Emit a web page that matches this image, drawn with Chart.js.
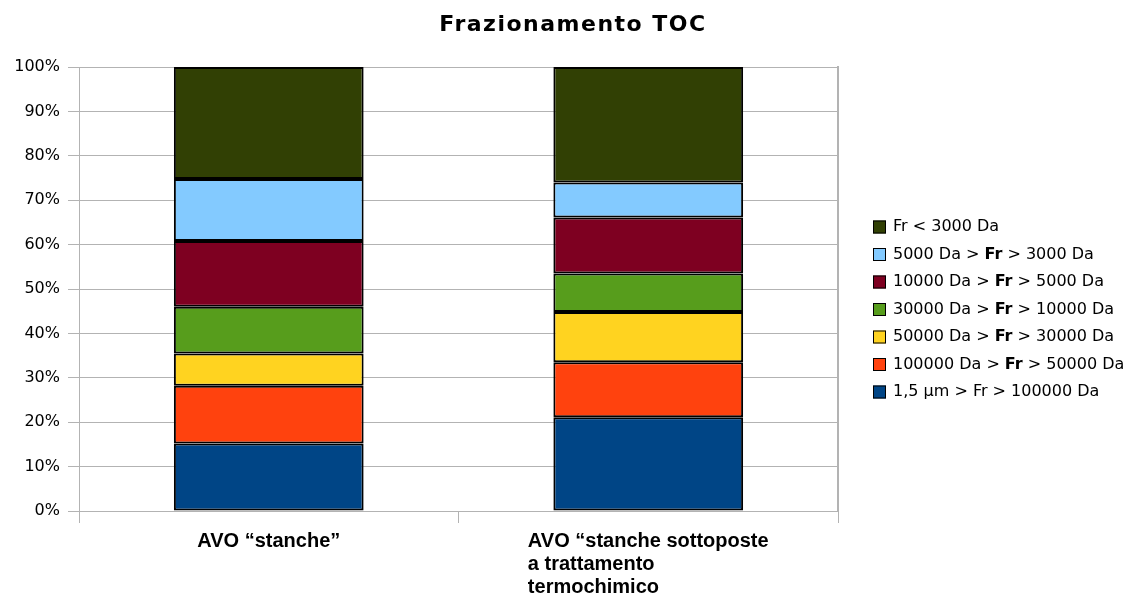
<!DOCTYPE html>
<html>
<head>
<meta charset="utf-8">
<title>Frazionamento TOC</title>
<script src="https://cdn.jsdelivr.net/npm/chart.js@4"></script>
<style>
  html, body { margin: 0; padding: 0; background: #ffffff; }
  #wrap { width: 1127px; height: 596px; }
</style>
</head>
<body>
<div id="wrap"><canvas id="chart" width="1127" height="596"></canvas></div>
<script>
// Categories (x axis), multi-line labels
const categories = [
  ['AVO “stanche”'],
  ['AVO “stanche sottoposte', 'a trattamento', 'termochimico']
];

// Fractions, bottom to top of each stacked column
const seriesLabels = [
  '1,5 µm > Fr > 100000 Da',
  '100000 Da > Fr > 50000 Da',
  '50000 Da > Fr > 30000 Da',
  '30000 Da > Fr > 10000 Da',
  '10000 Da > Fr > 5000 Da',
  '5000 Da > Fr > 3000 Da',
  'Fr < 3000 Da'
];
// whether "Fr" is set in bold inside each legend entry
const frBold = [false, true, true, true, true, true, false];

// Percentage of TOC in each fraction [AVO stanche, AVO trattate]
const frac15um    = [15.2, 21.1];
const frac100k    = [13.0, 12.4];
const frac50k     = [7.3, 11.3];
const frac30k     = [10.5, 8.7];
const frac10k     = [14.8, 12.6];
const frac5k      = [14.0, 7.9];
const fracBelow3k = [25.2, 26.0];

const seriesValues = [frac15um, frac100k, frac50k, frac30k, frac10k, frac5k, fracBelow3k];
const seriesColors = ['#004586', '#ff420e', '#ffd320', '#579d1c', '#7e0021', '#83caff', '#314004'];

// Y axis ticks
const yTicks = [0, 10, 20, 30, 40, 50, 60, 70, 80, 90, 100];

const chartTitle = 'Frazionamento TOC';
const GRID = '#b3b3b3';

const datasets = seriesLabels.map((label, i) => ({
  label: label,
  data: seriesValues[i],
  backgroundColor: seriesColors[i],
  borderColor: '#000000',
  borderWidth: 2,
  borderSkipped: false,
  barPercentage: 0.5,
  categoryPercentage: 1.0
}));

// Title, right frame line, x labels and legend drawn on the canvas
const decorations = {
  id: 'decorations',
  afterDraw(chart) {
    const ctx = chart.ctx;
    const area = chart.chartArea;
    const xScale = chart.scales.x;

    ctx.save();

    // right frame line of the plot area
    ctx.strokeStyle = GRID;
    ctx.lineWidth = 2;
    ctx.beginPath();
    ctx.moveTo(area.right, area.top - 1);
    ctx.lineTo(area.right, area.bottom);
    ctx.stroke();

    // title
    ctx.fillStyle = '#000000';
    ctx.font = 'bold 22px "DejaVu Sans"';
    ctx.letterSpacing = '1.5px';
    ctx.textAlign = 'center';
    ctx.textBaseline = 'alphabetic';
    ctx.fillText(chartTitle, 573, 31);
    ctx.letterSpacing = '0px';

    // category labels: left-aligned lines inside a block centred on the column
    ctx.font = 'bold 20px "Liberation Sans"';
    ctx.textAlign = 'left';
    categories.forEach((lines, i) => {
      const cx = xScale.getPixelForValue(i);
      const w = Math.max(...lines.map(l => ctx.measureText(l).width));
      lines.forEach((line, j) => {
        ctx.fillText(line, cx - w / 2, 547 + j * 23);
      });
    });

    // legend, top entry = top segment
    const boxX = 873, textX = 893, top = 227, step = 27.5, box = 13;
    ctx.textBaseline = 'middle';
    const n = chart.data.datasets.length;
    for (let k = 0; k < n; k++) {
      const i = n - 1 - k;
      const ds = chart.data.datasets[i];
      const y = top + k * step;
      ctx.fillStyle = ds.backgroundColor;
      ctx.fillRect(boxX, y - box / 2, box, box);
      ctx.strokeStyle = '#000000';
      ctx.lineWidth = 1;
      ctx.strokeRect(boxX + 0.5, y - box / 2 + 0.5, box - 1, box - 1);

      ctx.fillStyle = '#000000';
      const parts = ds.label.split('Fr');
      let x = textX;
      parts.forEach((p, j) => {
        if (j > 0) {
          ctx.font = (frBold[i] ? 'bold ' : '') + '16px "DejaVu Sans"';
          ctx.fillText('Fr', x, y);
          x += ctx.measureText('Fr').width;
        }
        ctx.font = '16px "DejaVu Sans"';
        ctx.fillText(p, x, y);
        x += ctx.measureText(p).width;
      });
    }
    ctx.restore();
  }
};

new Chart(document.getElementById('chart'), {
  type: 'bar',
  data: {
    labels: categories.map(c => c.join(' ')),
    datasets: datasets
  },
  options: {
    responsive: false,
    animation: false,
    layout: { padding: { top: 67, right: 289, left: 0, bottom: 0 } },
    plugins: {
      legend: { display: false },
      title: { display: false },
      tooltip: { enabled: false }
    },
    scales: {
      x: {
        stacked: true,
        offset: true,
        grid: {
          display: true,
          offset: true,
          drawOnChartArea: false,
          drawTicks: true,
          tickLength: 12,
          color: GRID,
          lineWidth: 1
        },
        border: { display: true, color: GRID, width: 1 },
        ticks: { display: false },
        afterFit(scale) { scale.height = 85; }
      },
      y: {
        stacked: true,
        min: 0,
        max: 100,
        afterBuildTicks(scale) { scale.ticks = yTicks.map(v => ({ value: v })); },
        grid: {
          color: GRID,
          lineWidth: 1,
          drawTicks: true,
          tickLength: 11
        },
        border: { display: true, color: GRID, width: 1 },
        ticks: {
          color: '#000000',
          padding: 8,
          font: { family: 'DejaVu Sans', size: 16 },
          callback: v => v + '%'
        },
        afterFit(scale) { scale.width = 79; }
      }
    }
  },
  plugins: [decorations]
});
</script>
</body>
</html>
